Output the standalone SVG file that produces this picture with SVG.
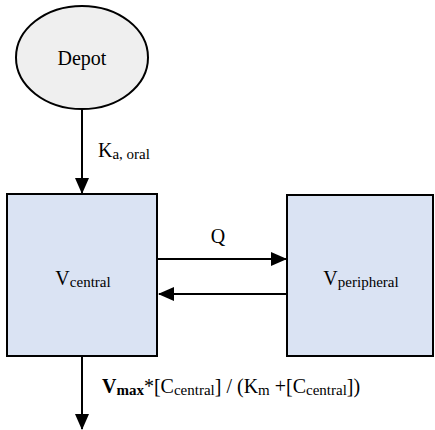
<svg xmlns="http://www.w3.org/2000/svg" width="435" height="430" viewBox="0 0 435 430">
<defs>
<marker id="ahb" markerWidth="16" markerHeight="16" refX="15" refY="8" orient="auto" markerUnits="userSpaceOnUse" viewBox="0 0 16 16">
<path d="M0,1 L16,8 L0,15 Z" fill="#000"/>
</marker>
</defs>
<g id="depot">
<ellipse cx="82" cy="57.5" rx="66" ry="51.5" fill="#efefef" stroke="#000" stroke-width="2"/>
<text x="82" y="65" text-anchor="middle" style="font-family:'Liberation Serif',serif;font-size:20px">Depot</text>
</g>
<g id="central">
<rect x="7" y="194" width="150" height="162" fill="#dae3f3" stroke="#000" stroke-width="2"/>
<text x="83" y="285" text-anchor="middle" style="font-family:'Liberation Serif',serif;font-size:20px">V<tspan font-size="15" dy="2">central</tspan></text>
</g>
<g id="peripheral">
<rect x="287" y="195" width="146" height="161" fill="#dae3f3" stroke="#000" stroke-width="2"/>
<text x="361" y="285" text-anchor="middle" style="font-family:'Liberation Serif',serif;font-size:20px">V<tspan font-size="15" dy="2">peripheral</tspan></text>
</g>
<g id="connectors" stroke="#000" stroke-width="2" fill="none">
<line x1="82" y1="109" x2="82" y2="193" marker-end="url(#ahb)"/>
<line x1="157" y1="259" x2="286" y2="259" marker-end="url(#ahb)"/>
<line x1="287" y1="294" x2="159" y2="294" marker-end="url(#ahb)"/>
<line x1="82" y1="357" x2="82" y2="429" marker-end="url(#ahb)"/>
</g>
<g id="labels" fill="#000">
<text x="98" y="157" style="font-family:'Liberation Serif',serif;font-size:20px">K<tspan font-size="15" dy="2">a, oral</tspan></text>
<text x="218" y="243" text-anchor="middle" style="font-family:'Liberation Serif',serif;font-size:20px">Q</text>
<text x="102" y="393" style="font-family:'Liberation Serif',serif;font-size:20px"><tspan font-weight="bold">V</tspan><tspan font-size="15" font-weight="bold" dy="2">max</tspan><tspan dy="-2">*[C</tspan><tspan font-size="15" dy="2">central</tspan><tspan dy="-2">] / (K</tspan><tspan font-size="15" dy="2">m</tspan><tspan dy="-2"> +[C</tspan><tspan font-size="15" dy="2">central</tspan><tspan dy="-2">])</tspan></text>
</g>
</svg>
